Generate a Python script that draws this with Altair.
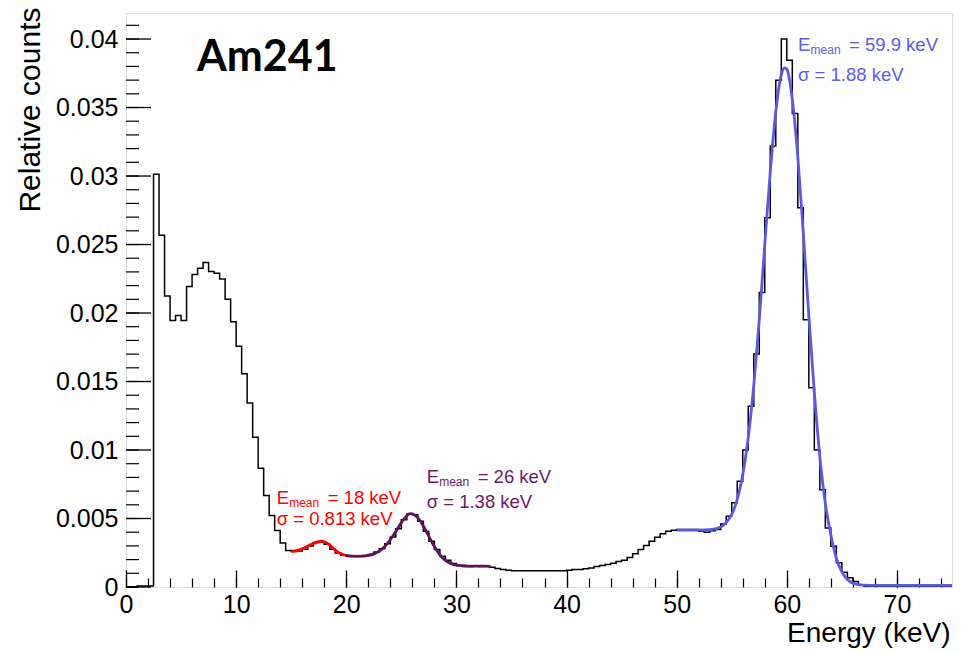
import altair as alt
import pandas as pd

# ---------------- data (values in units of 1e-3 relative counts) ----------------
bin_width = 0.5
counts_e3 = [
    0.00, 0.00, 0.08, 0.08, 0.08,                                  # 0.0 - 2.0
    30.13, 25.68, 21.25, 19.45, 19.82, 19.45, 21.93, 22.81, 23.27, 23.69,   # 2.5 - 7.0
    23.03, 22.90, 22.49, 21.00, 19.36, 17.58, 15.56, 13.44, 10.93, 8.67,    # 7.5 - 12.0
    6.68, 5.22, 4.12, 3.22, 2.66, 2.60, 2.62, 2.75, 3.00, 3.25,             # 12.5 - 17.0
    3.30, 3.12, 2.75, 2.48, 2.32, 2.25, 2.24, 2.25, 2.30, 2.38,             # 17.5 - 22.0
    2.55, 2.80, 3.15, 3.65, 4.25, 4.90, 5.32, 5.28, 4.80, 4.07,             # 22.5 - 27.0
    3.34, 2.74, 2.25, 1.96, 1.72, 1.57, 1.52, 1.50, 1.52, 1.50,             # 27.5 - 32.0
    1.55, 1.45, 1.35, 1.28, 1.23,                                           # 32.5 - 34.5
    1.19, 1.18, 1.18, 1.19, 1.18, 1.18, 1.19, 1.18, 1.18, 1.19,             # 35.0 - 39.5
    1.22, 1.28, 1.28, 1.33, 1.38, 1.50, 1.57, 1.64, 1.74, 1.86,             # 40.0 - 44.5
    1.96, 2.15, 2.42, 2.74, 3.03, 3.34, 3.64, 3.88, 4.07, 4.15,             # 45.0 - 49.5
    4.20, 4.20, 4.20, 4.20, 4.07, 4.00, 4.10, 4.20, 4.60, 5.17,             # 50.0 - 54.5
    6.15, 7.72, 10.00, 13.20, 17.00, 21.50, 26.95, 32.20, 37.00, 40.00,     # 55.0 - 59.5
    38.45, 34.56, 27.68, 19.50, 14.54, 10.00, 7.10, 4.30, 2.98, 1.77,       # 60.0 - 64.5
    1.08, 0.67, 0.40, 0.15,                                                 # 65.0 - 66.5
    0.05, 0.05, 0.05, 0.05, 0.05, 0.05, 0.05, 0.05,                         # 67.0 - 70.5
    0.05, 0.05, 0.05, 0.05, 0.05, 0.05, 0.05, 0.05,                         # 71.0 - 74.5
]
assert len(counts_e3) == 150

red_x = [15.0, 15.5, 16.0, 16.5, 17.0, 17.5, 17.8, 18.0, 18.5, 19.0, 19.5, 20.0]
red_y = [2.61, 2.66, 2.78, 2.98, 3.17, 3.32, 3.35, 3.30, 3.05, 2.69, 2.43, 2.30]

purple_x = [20.0, 20.5, 21.0, 21.5, 22.0, 22.5, 23.0, 23.5, 24.0, 24.5, 25.0, 25.5, 25.8, 26.0,
            26.5, 27.0, 27.5, 28.0, 28.5, 29.0, 29.5, 30.0, 30.5, 31.0, 31.5, 32.0, 32.5, 33.1]
purple_y = [2.30, 2.25, 2.24, 2.25, 2.30, 2.42, 2.62, 2.95, 3.45, 4.05, 4.70, 5.20, 5.35, 5.33,
            5.05, 4.45, 3.70, 2.95, 2.35, 1.95, 1.72, 1.60, 1.55, 1.53, 1.52, 1.52, 1.52, 1.50]

blue_x = [50, 51, 52, 53, 54, 54.5, 55, 55.5, 56, 56.5, 57, 57.5, 58, 58.5, 59, 59.5, 59.8, 60,
          60.5, 61, 61.5, 62, 62.5, 63, 63.5, 64, 64.5, 65, 65.5, 66, 66.5, 67, 68, 70, 75]
blue_y = [4.15, 4.15, 4.15, 4.18, 4.38, 4.70, 5.30, 6.40, 8.20, 10.90, 14.70, 19.50, 25.00, 30.30,
          34.70, 37.40, 37.90, 37.80, 35.60, 31.40, 25.80, 19.80, 14.20, 9.50, 6.10, 3.80, 2.10,
          1.10, 0.55, 0.28, 0.18, 0.14, 0.12, 0.12, 0.12]

# fit annotations
ann_x = [13.68, 27.30, 61.02]
ann_y1 = [6.09, 7.59, 39.16]
ann_y2 = [4.50, 5.80, 36.90]
ann_rest = ["= 18 keV", "= 26 keV", "= 59.9 keV"]
ann_sigma = ["σ = 0.813 keV", "σ = 1.38 keV", "σ = 1.88 keV"]
ann_color = ["#ff0000", "#6b1a6b", "#5c5ce6"]

label_text = ["Am241"]
label_x = [6.45]
label_y = [37.63]

x_major = [0, 10, 20, 30, 40, 50, 60, 70]
x_minor = [0, 2, 4, 6, 8, 10, 12, 14, 16, 18, 20, 22, 24, 26, 28, 30, 32, 34, 36, 38, 40,
           42, 44, 46, 48, 50, 52, 54, 56, 58, 60, 62, 64, 66, 68, 70, 72, 74]
y_major = [0, 0.005, 0.01, 0.015, 0.02, 0.025, 0.03, 0.035, 0.04]
y_minor = [i / 1000 for i in range(0, 42)]

# ---------------- tables ----------------
edges = [i * bin_width for i in range(len(counts_e3))] + [75.0]
hist_df = pd.DataFrame({"x": edges, "y": [c / 1000 for c in counts_e3] + [counts_e3[-1] / 1000]})
red_df = pd.DataFrame({"x": red_x, "y": [v / 1000 for v in red_y]})
purple_df = pd.DataFrame({"x": purple_x, "y": [v / 1000 for v in purple_y]})
blue_df = pd.DataFrame({"x": blue_x, "y": [v / 1000 for v in blue_y]})
ann_df = pd.DataFrame({
    "x": ann_x, "y1": [v / 1000 for v in ann_y1], "y2": [v / 1000 for v in ann_y2],
    "rest": ann_rest, "sigma": ann_sigma, "color": ann_color,
})
lab_df = pd.DataFrame({"x": label_x, "y": [v / 1000 for v in label_y], "t": label_text})
ymaj_df = pd.DataFrame({"v": y_major})
ymin_df = pd.DataFrame({"v": y_minor})

FONT = "Liberation Sans"
xs = alt.Scale(domain=[0, 75], nice=False, zero=False)
ys = alt.Scale(domain=[0, 0.0419], nice=False, zero=False)

x_axis_major = alt.Axis(
    values=x_major, tickSize=17, offset=-17, domain=False, grid=False,
    tickColor="black", tickWidth=1.3, labelFont=FONT, labelFontSize=25, labelColor="black",
    labelPadding=5, format="d", labelFlush=False,
    title="Energy (keV)", titleFont=FONT, titleFontSize=28, titleFontWeight="normal",
    titleColor="black", titleX=824, titleY=63, titleAlign="right", titleBaseline="middle",
)
y_axis_major = alt.Axis(
    values=y_major, ticks=False, domain=False, grid=False,
    labelFont=FONT, labelFontSize=25, labelColor="black",
    labelPadding=8, format="~g", labelFlush=False,
    title="Relative counts", titleFont=FONT, titleFontSize=30, titleFontWeight="normal",
    titleColor="black", titleX=-96, titleY=-6, titleAngle=-90, titleAlign="right",
    titleBaseline="middle",
)
x_axis_minor = alt.Axis(values=x_minor, tickSize=9, offset=-9, domain=False, grid=False,
                        labels=False, title=None, tickColor="black", tickWidth=1.2, orient="bottom")

hist = alt.Chart(hist_df).mark_line(interpolate="step-after", color="black", strokeWidth=1.5).encode(
    x=alt.X("x:Q", scale=xs, axis=x_axis_major),
    y=alt.Y("y:Q", scale=ys, axis=y_axis_major),
)
minor = alt.Chart(hist_df).mark_line(opacity=0).encode(
    x=alt.X("x:Q", scale=xs, axis=x_axis_minor),
    y=alt.Y("y:Q", scale=ys, axis=None),
)

# inward-pointing y ticks (ROOT style), positioned by the y scale
ytick_major = alt.Chart(ymaj_df).mark_rule(color="black", strokeWidth=1.3).encode(
    y=alt.Y("v:Q", scale=ys, axis=None), x=alt.value(0), x2=alt.value(25),
)
ytick_minor = alt.Chart(ymin_df).mark_rule(color="black", strokeWidth=1.2).encode(
    y=alt.Y("v:Q", scale=ys, axis=None), x=alt.value(0), x2=alt.value(13),
)


def fit(df, color):
    return alt.Chart(df).mark_line(color=color, strokeWidth=2.8, interpolate="monotone").encode(
        x=alt.X("x:Q", scale=xs, axis=None),
        y=alt.Y("y:Q", scale=ys, axis=None),
    )


def txt(field_text, yfield, dx=0, dy=0, size=18.5):
    return alt.Chart(ann_df).mark_text(
        align="left", baseline="alphabetic", font=FONT, fontSize=size, dx=dx, dy=dy
    ).encode(
        x=alt.X("x:Q", scale=xs, axis=None),
        y=alt.Y(f"{yfield}:Q", scale=ys, axis=None),
        text=field_text,
        color=alt.Color("color:N", scale=None),
    )


e_layer = txt(alt.value("E"), "y1")
mean_layer = txt(alt.value("mean"), "y1", dx=12.5, dy=3, size=12)
rest_layer = txt(alt.Text("rest:N"), "y1", dx=51)
sigma_layer = txt(alt.Text("sigma:N"), "y2")

am = alt.Chart(lab_df).mark_text(
    align="left", baseline="alphabetic", font="Lato", fontWeight="bold", fontSize=43, color="black"
).encode(
    x=alt.X("x:Q", scale=xs, axis=None),
    y=alt.Y("y:Q", scale=ys, axis=None),
    text="t:N",
)

chart = alt.layer(
    hist, minor, ytick_major, ytick_minor,
    fit(red_df, "#ff0000"), fit(purple_df, "#5e125e"), fit(blue_df, "#5a5ae0"),
    e_layer, mean_layer, rest_layer, sigma_layer, am,
).resolve_axis(x="independent", y="independent").properties(
    width=826, height=574,
    padding={"left": 118, "top": 5, "right": 8, "bottom": 64},
    autosize=alt.AutoSizeParams(type="none"),
).configure_view(stroke="black", strokeWidth=1.5).configure(background="white")

chart.save("out.html", embed_options={"renderer": "svg", "actions": False})
